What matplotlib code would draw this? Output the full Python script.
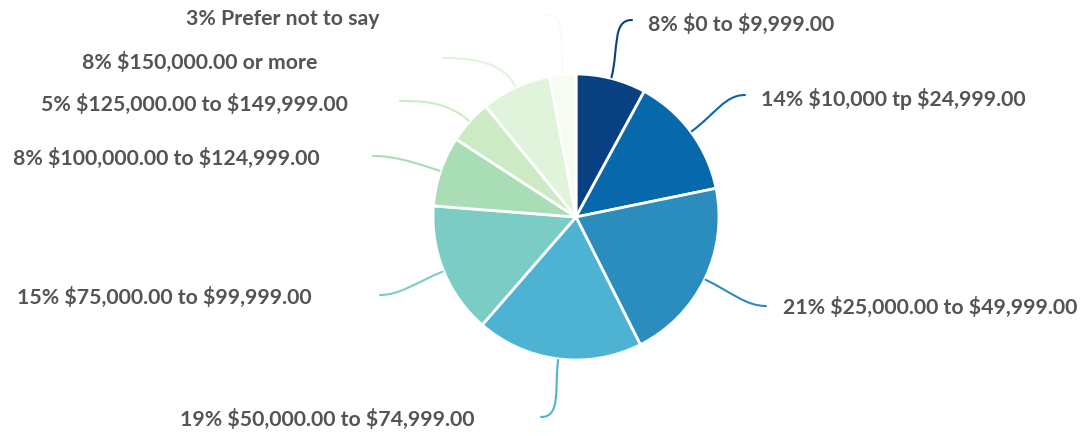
import numpy as np
import matplotlib
matplotlib.use("Agg")
import matplotlib.pyplot as plt
from matplotlib.path import Path
from matplotlib.patches import PathPatch

# --------- data ----------
labels = [
    "$0 to $9,999.00",
    "$10,000 tp $24,999.00",
    "$25,000.00 to $49,999.00",
    "$50,000.00 to $74,999.00",
    "$75,000.00 to $99,999.00",
    "$100,000.00 to $124,999.00",
    "$125,000.00 to $149,999.00",
    "$150,000.00 or more",
    "Prefer not to say",
]
percents = [8, 14, 21, 19, 15, 8, 5, 8, 3]
colors = ["#084081", "#0868ac", "#2b8cbe", "#4eb3d3", "#7bccc4",
          "#a8ddb5", "#ccebc5", "#e0f3db", "#f7fcf0"]

# --------- layout (pixels, origin top-left) ----------
W, H = 1086, 436
CX, CY, R = 576, 217, 143
# end of each leader line, and which side the text goes
label_end = [(632, 20), (745, 95), (766, 306), (541, 417), (380, 295),
             (373, 156), (400, 101), (443, 58), (547, 15)]
text_right = [True, True, True, False, False, False, False, False, False]
text_gap = [16, 16, 17, 67, 68, 53, 52, 126, 167]
text_drop = [4, 4, 1, 2, 2, 2, 3, 4, 4]

plt.rcParams["font.family"] = ["Lato", "DejaVu Sans"]

fig = plt.figure(figsize=(W / 100, H / 100), dpi=100)
ax = fig.add_axes([0, 0, 1, 1])

wedges, _ = ax.pie(percents, colors=colors, startangle=90, counterclock=False,
                   center=(CX, H - CY), radius=R,
                   wedgeprops=dict(edgecolor="white", linewidth=2))
ax.set_xlim(0, W)
ax.set_ylim(0, H)
ax.set_aspect("equal")
ax.axis("off")

for i, w in enumerate(wedges):
    mid = np.deg2rad((w.theta1 + w.theta2) / 2)
    d = np.array([np.cos(mid), np.sin(mid)])
    start = np.array([CX, H - CY]) + d * (R + 1)
    ex, ey = label_end[i][0], H - label_end[i][1]
    hdir = 1 if text_right[i] else -1
    c1 = start + d * 30
    c2 = (ex - hdir * 20, ey)
    path = Path([tuple(start), tuple(c1), c2, (ex, ey)],
                [Path.MOVETO, Path.CURVE4, Path.CURVE4, Path.CURVE4])
    ax.add_patch(PathPatch(path, facecolor="none", edgecolor=colors[i], lw=1.5,
                           capstyle="round"))
    ax.text(ex + hdir * text_gap[i], ey - text_drop[i],
            f"{percents[i]}% {labels[i]}",
            ha="left" if text_right[i] else "right", va="center",
            fontsize=15.3, fontweight="bold", color="#545454",
            parse_math=False)

fig.savefig("out.png", dpi=100, facecolor="white")
